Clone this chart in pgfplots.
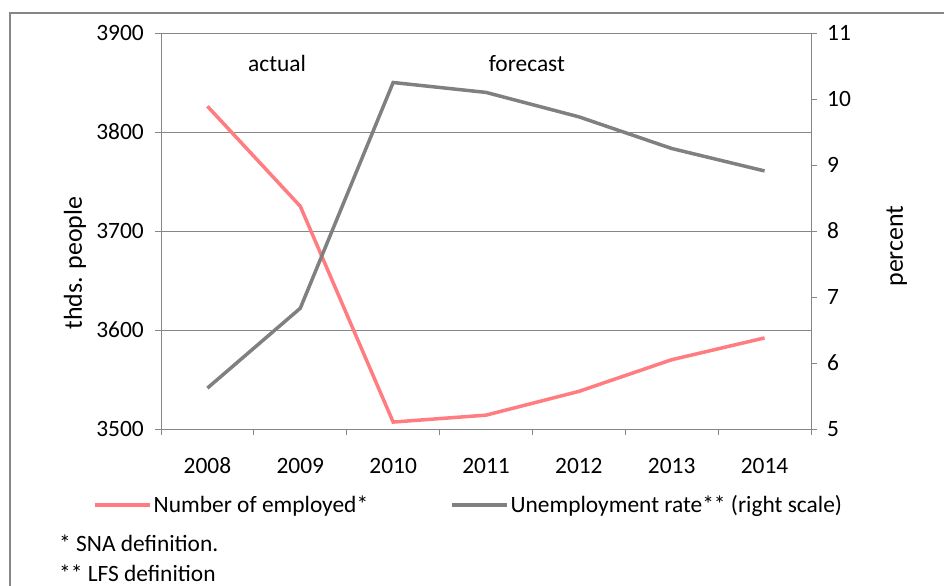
\documentclass[border=0pt]{standalone}
\usepackage{fontspec}
\setmainfont{Carlito}
\usepackage{pgfplots}
\pgfplotsset{compat=1.18}
\definecolor{emp}{RGB}{255,124,128}
\definecolor{unemp}{RGB}{128,128,128}
\definecolor{axgray}{RGB}{134,134,134}
\newcommand{\tf}{\fontsize{23.5}{27}\selectfont}
\newcommand{\lf}{\fontsize{26}{30}\selectfont}
\begin{document}
\begin{tikzpicture}
\useasboundingbox (0bp,0bp) rectangle (944bp,-586bp);
\draw[axgray, line width=1.3bp] (10bp,-13bp) rectangle (980bp,-620bp);
\pgfplotsset{
  common/.style={
    at={(161bp,-429bp)}, anchor=south west,
    scale only axis, width=650bp, height=396bp,
    xmin=-0.5, xmax=6.5,
    axis line style={axgray, line width=1bp},
    tick style={axgray, line width=1bp},
    tick align=outside,
    major tick length=6bp, minor tick length=6bp,
    /pgf/number format/assume math mode=true,
    ticklabel style={font=\tf},
    clip=false,
  }
}
\begin{axis}[common,
  axis x line*=bottom, axis y line*=left,
  ymin=3500, ymax=3900, ytick={3500,3600,...,3900},
  yticklabel style={/pgf/number format/1000 sep={}, inner sep=0pt, xshift=-11bp},
  ymajorgrids, grid style={axgray, line width=1bp},
  xtick={0,...,6}, xticklabels={2008,2009,2010,2011,2012,2013,2014},
  minor xtick={-0.5,0.5,...,6.5},
  every major x tick/.append style={draw=none},
  xticklabel style={inner sep=0pt, text height=16bp, text depth=0bp, anchor=north, yshift=-22bp},
  ylabel={thds. people},
  ylabel style={font=\lf, at={(axis description cs:-0.1323,0.419)}, anchor=center, rotate=0},
]
\addplot[emp, line width=3.5bp] coordinates {(0,3826) (1,3725) (2,3507) (3,3514) (4,3538) (5,3570) (6,3592)};
\node[font=\tf] at (axis cs:0.75,3869) {actual};
\node[font=\tf] at (axis cs:3.44,3869) {forecast};
\end{axis}
\begin{axis}[common,
  axis x line=none, axis y line*=right,
  ymin=5, ymax=11, ytick={5,6,...,11},
  yticklabel style={inner sep=0pt, xshift=10bp},
  ylabel={percent},
  ylabel style={font=\lf, at={(axis description cs:1.132,0.462)}, anchor=center, rotate=0},
  legend columns=2,
  legend style={draw=none, fill=none, font=\tf, at={(axis description cs:-0.1046,-0.192)}, anchor=west, inner sep=0pt,
    /tikz/every even column/.append style={column sep=80bp}},
  legend image code/.code={\draw[#1] (0bp,0bp) -- (55bp,0bp);},
]
\addlegendimage{emp, line width=3.5bp}
\addlegendentry{Number of employed*}
\addplot[unemp, line width=3.5bp] coordinates {(0,5.62) (1,6.83) (2,10.25) (3,10.10) (4,9.73) (5,9.25) (6,8.91)};
\addlegendentry{Unemployment rate** (right scale)}
\end{axis}
\node[anchor=west, font=\tf, inner sep=0pt] at (59bp,-543bp) {* SNA definition.};
\node[anchor=west, font=\tf, inner sep=0pt] at (59bp,-573bp) {** LFS definition};
\end{tikzpicture}
\end{document}
